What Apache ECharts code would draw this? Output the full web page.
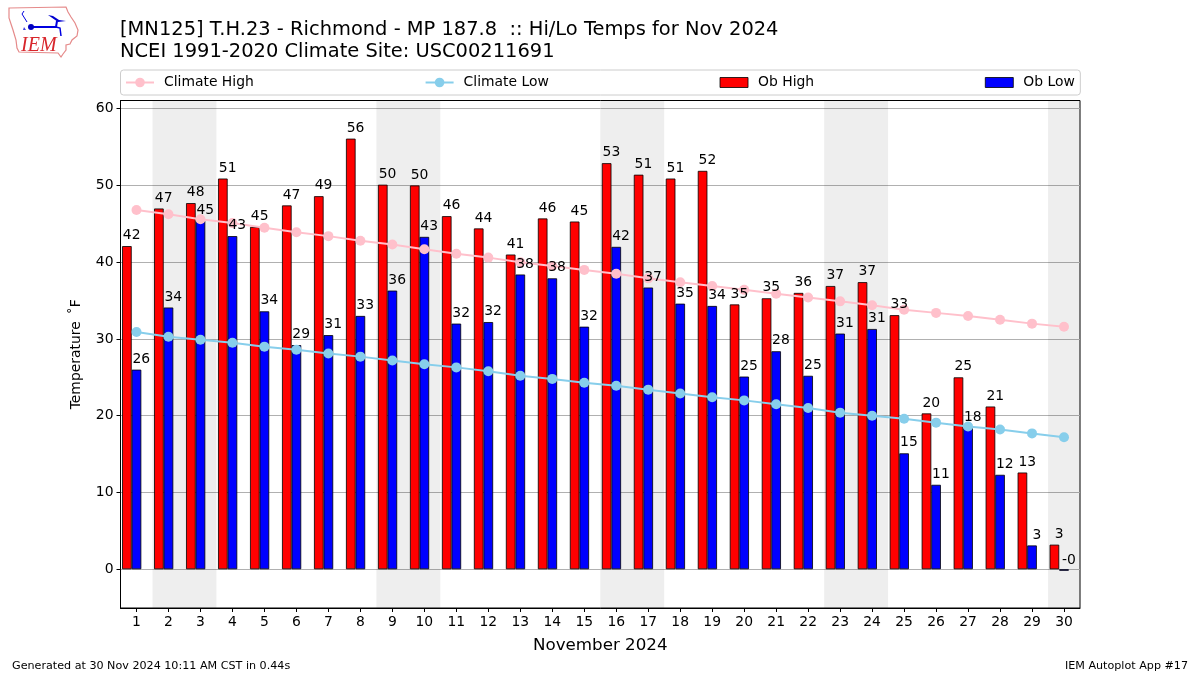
<!DOCTYPE html>
<html><head><meta charset="utf-8">
<style>html,body{margin:0;padding:0;background:#fff}#c{width:1200px;height:675px}</style>
<script src="https://cdn.jsdelivr.net/npm/echarts@6/dist/echarts.min.js"></script></head>
<body><div id="c"></div>
<script>
const days = [1,2,3,4,5,6,7,8,9,10,11,12,13,14,15,16,17,18,19,20,21,22,23,24,25,26,27,28,29,30];
const obHigh = [42.1,47,47.7,50.9,44.6,47.4,48.6,56.1,50.1,50,46,44.4,41,45.7,45.3,52.9,51.4,50.9,51.9,34.5,35.3,36,36.9,37.4,33.1,20.3,25,21.2,12.6,3.2];
const obLow = [26,34.1,45.4,43.4,33.6,29.2,30.5,33,36.3,43.3,32,32.2,38.4,37.9,31.6,42,36.7,34.6,34.3,25.1,28.4,25.2,30.7,31.3,15.1,11,18.4,12.3,3.1,-0.2];
const climateHigh = [46.8,46.25,45.6,45.1,44.5,43.9,43.4,42.8,42.3,41.7,41.1,40.6,40,39.5,39,38.5,37.9,37.4,36.9,36.4,35.9,35.4,34.9,34.4,33.8,33.4,33,32.5,32,31.6];
const climateLow = [30.9,30.3,29.9,29.5,29,28.6,28.1,27.7,27.2,26.7,26.3,25.8,25.2,24.8,24.3,23.9,23.4,22.9,22.4,22,21.5,21,20.4,20,19.6,19.1,18.6,18.2,17.7,17.2];
const weekends = [[1.5,3.5],[8.5,10.5],[15.5,17.5],[22.5,24.5],[29.5,30.5]];
const yTicks = [0,10,20,30,40,50,60];
const FONT = 'DejaVu Sans';
const pairs = a => a.map((v,i)=>[days[i],v]);
const labelSeries = (name,arr,dx)=>({
  name, type:'scatter', xAxisIndex:1, data:pairs(arr), symbolSize:0, z:10, silent:true,
  itemStyle:{opacity:1},
  label:{show:true, position:'top', distance:3.5, offset:[dx,0], color:'#000', fontFamily:FONT, fontSize:13.9,
    formatter:p=>p.value[1].toFixed(0)}
});
const barIcon = 'path://M0 0h0v0zM0 1h28v10H0zM0 12h0v0z';
const chart = echarts.init(document.getElementById('c'),null,{renderer:'canvas'});
chart.setOption({
  animation:false,
  textStyle:{fontFamily:FONT},
  title:[
    {text:'[MN125] T.H.23 - Richmond - MP 187.8  :: Hi/Lo Temps for Nov 2024\nNCEI 1991-2020 Climate Site: USC00211691',
     left:120, top:19, padding:0, textStyle:{fontFamily:FONT,fontSize:19.45,fontWeight:'normal',color:'#000',lineHeight:22}},
    {text:'Generated at 30 Nov 2024 10:11 AM CST in 0.44s', left:12, top:661, padding:0,
     textStyle:{fontFamily:FONT,fontSize:11.15,fontWeight:'normal',color:'#000'}},
    {text:'IEM Autoplot App #17', right:12, top:661, padding:0,
     textStyle:{fontFamily:FONT,fontSize:11.15,fontWeight:'normal',color:'#000'}}
  ],
  legend:{
    left:120.5, top:70, padding:[5.5,5.5,5.5,4.5], itemGap:170.8, itemWidth:28, itemHeight:12,
    borderColor:'#ccc', borderWidth:1, borderRadius:3,
    itemStyle:{borderWidth:0.8},
    textStyle:{fontFamily:FONT,fontSize:13.9,color:'#000',padding:[0,0,0,5]},
    data:[{name:'Climate High'},{name:'Climate Low'},{name:'Ob High',icon:barIcon},{name:'Ob Low',icon:barIcon}]
  },
  grid:{left:120.5,top:100.5,width:959.5,height:507.5,show:true,borderColor:'#000',borderWidth:1,backgroundColor:'transparent'},
  xAxis:[
    {type:'value',min:0.5,max:30.5,position:'bottom',
     name:'November 2024',nameLocation:'middle',nameGap:29,
     nameTextStyle:{fontFamily:FONT,fontSize:16.7,color:'#000'},
     axisLine:{show:true,onZero:false,lineStyle:{color:'#000',width:1}},
     axisTick:{show:true,length:4,customValues:days,lineStyle:{color:'#000'}},
     axisLabel:{show:true,customValues:days,color:'#000',fontFamily:FONT,fontSize:13.9,margin:7,hideOverlap:false},
     splitLine:{show:false}},
    {type:'value',min:0.65,max:30.65,show:false,splitLine:{show:false}}
  ],
  yAxis:[{type:'value',min:-5.05,max:61.07,
    name:'Temperature \u2009˚F',nameLocation:'middle',nameGap:37,
    nameTextStyle:{fontFamily:FONT,fontSize:13.9,color:'#000'},
    axisLine:{show:true,onZero:false,lineStyle:{color:'#000',width:1}},
    axisTick:{show:true,length:4,customValues:yTicks,lineStyle:{color:'#000'}},
    axisLabel:{show:true,customValues:yTicks,color:'#000',fontFamily:FONT,fontSize:13.9,margin:7,padding:[2,0,0,0]},
    splitLine:{show:true,customValues:yTicks,lineStyle:{color:'#b0b0b0',width:1}}
  }],
  series:[
    {name:'Ob High',type:'bar',xAxisIndex:1,data:pairs(obHigh),barWidth:9.6,barGap:0,z:3,
     itemStyle:{color:'#ff0000',borderColor:'#000',borderWidth:0.8}},
    {name:'Ob Low',type:'bar',xAxisIndex:1,data:pairs(obLow),barWidth:9.6,barGap:0,z:3,
     itemStyle:{color:'#0000ff',borderColor:'#000',borderWidth:0.8}},
    {name:'Climate High',type:'line',data:pairs(climateHigh),symbol:'circle',symbolSize:10,z:5,
     lineStyle:{color:'#ffc0cb',width:2},itemStyle:{color:'#ffc0cb'},
     markArea:{silent:true,z:1,itemStyle:{color:'rgba(0,0,0,0.067)'},data:weekends.map(w=>[{xAxis:w[0]},{xAxis:w[1]}])}},
    {name:'Climate Low',type:'line',data:pairs(climateLow),symbol:'circle',symbolSize:10,z:5,
     lineStyle:{color:'#87ceeb',width:2},itemStyle:{color:'#87ceeb'}},
    labelSeries('Ob High labels',obHigh,0),
    labelSeries('Ob Low labels',obLow,9.6)
  ],
  graphic:[
    {type:'polygon',silent:true,shape:{points:[[9,8],[66,7],[68,12],[71,17],[75,23],[78,30],[77,36],[72,40],[70,44],[66,45],[66,50],[63,54],[61,57],[58,53],[19,52],[17,48],[16,40],[13,30],[11,24],[9,18]]},
     style:{fill:'#fff',stroke:'#e58a8a',lineWidth:1.2}},
    {type:'polyline',silent:true,shape:{points:[[31,27],[56,27],[57,21]]},style:{stroke:'#0000e0',lineWidth:2,fill:null}},
    {type:'polygon',silent:true,shape:{points:[[48,15],[53,16],[59,20],[66,21],[58,22]]},style:{fill:'#0000d0'}},
    {type:'polyline',silent:true,shape:{points:[[56,27],[60,28],[61,36]]},style:{stroke:'#0000e0',lineWidth:1.5,fill:null}},
    {type:'polyline',silent:true,shape:{points:[[24,11],[22,14],[27,22]]},style:{stroke:'#0000e0',lineWidth:1,fill:null}},
    {type:'polygon',silent:true,shape:{points:[[24,27],[26,30],[23,30]]},style:{fill:'#4040e0'}},
    {type:'circle',silent:true,shape:{cx:31,cy:27,r:3},style:{fill:'#0000c0'}},
    {type:'text',silent:true,x:21,y:36,style:{text:'IEM',fill:'#d8262c',font:'italic 20px "Liberation Serif"'}}
  ]
});
</script></body></html>
